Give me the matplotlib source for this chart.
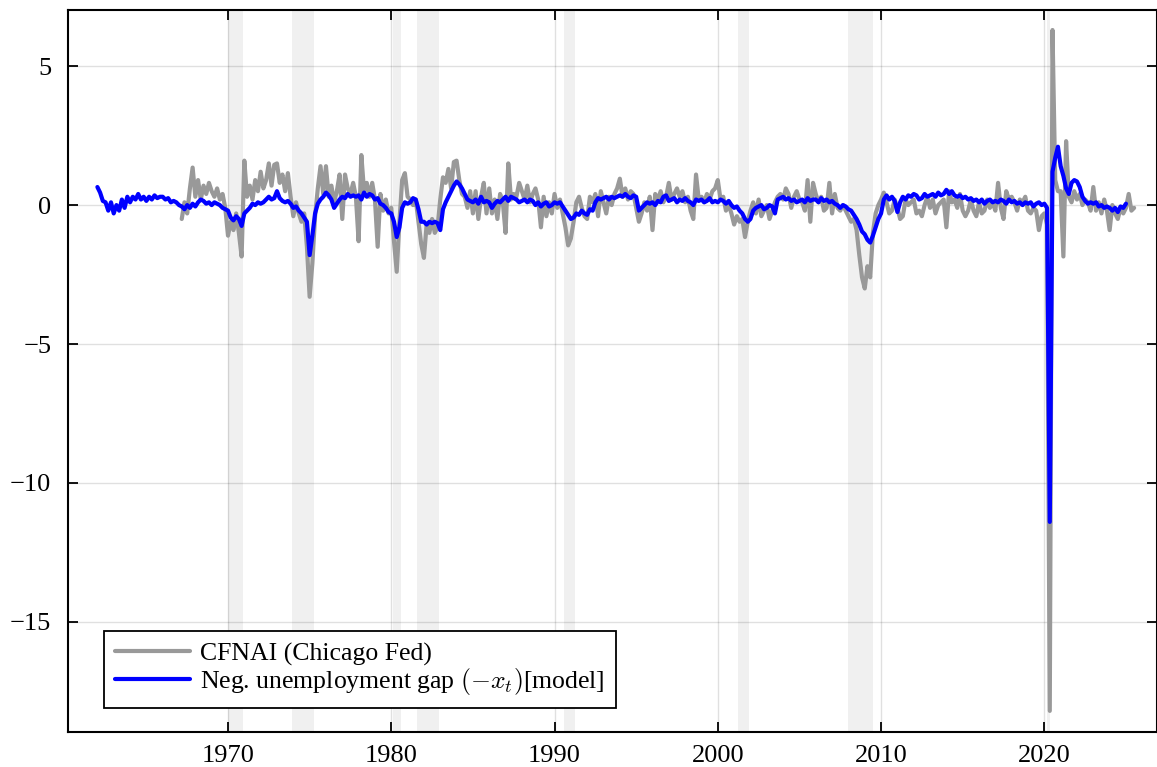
import numpy as np
import matplotlib
matplotlib.use("Agg")
import matplotlib.pyplot as plt

plt.rcParams['font.family'] = ['Liberation Serif', 'DejaVu Serif']
plt.rcParams['mathtext.fontset'] = 'cm'

# ---------------- data (bi-monthly samples) ----------------
# CFNAI (Chicago Fed): starts Mar 1967, one value every two months
cfnai_start = 1967 + 2 / 12
cfnai_1960s = [-0.5, 0.1, -0.3, 0.6, 1.35,
               0.3, 0.9, 0.2, 0.7, 0.4, 0.8,
               0.5, 0.3, 0.6, 0.2, 0.4, -0.1]
cfnai_1970s = [-1.1, -0.6, -0.9, -0.3, -1.0, -1.85,
               1.6, 0.3, 0.7, 0.2, 0.9, 0.5,
               1.2, 0.6, 0.9, 1.5, 0.7, 1.45,
               1.5, 0.8, 1.1, 0.5, 1.15, 0.3,
               -0.4, 0.1, -0.3, -0.6, -0.3, -1.5,
               -3.3, -2.1, -0.4, 0.6, 1.4, 0.4,
               1.4, 0.3, 0.7, 0.1, 0.5, 1.1,
               -0.5, 1.1, 0.6, 0.4, 0.8, 0.3,
               -1.3, 1.8, 0.5, 0.8, 0.3, 0.8,
               0.2, -1.5, 0.4, -0.2, 0.2, -0.3]
cfnai_1980s = [-0.1, -1.3, -2.4, -0.6, 0.9, 1.15,
               0.3, 0.2, 0.0, 0.2, -0.6, -1.4,
               -1.9, -0.7, -1.0, -0.5, -1.0, -0.8,
               0.2, 1.0, 0.8, 1.3, 0.6, 1.55,
               1.6, 0.9, 0.4, 0.3, -0.1, 0.5,
               -0.3, 0.5, -0.5, 0.3, 0.8, -0.3,
               0.6, -0.3, 0.2, -0.5, 0.4, 0.1,
               -1.0, 1.5, 0.2, 0.4, 0.3, 0.8,
               0.5, 0.2, 0.7, 0.1, 0.4, 0.6,
               0.2, -0.8, 0.3, -0.4, 0.1, -0.3]
cfnai_1990s = [0.4, -0.1, 0.2, -0.3, -0.8, -1.45,
               -1.2, -0.6, 0.1, 0.3, -0.1, -0.4,
               -0.5, 0.3, 0.1, 0.4, -0.4, 0.5,
               0.1, -0.3, 0.3, 0.0, 0.4, 0.6,
               0.95, 0.3, 0.6, 0.2, 0.5, 0.4,
               -0.1, -0.6, -0.3, 0.1, -0.2, 0.3,
               -0.9, 0.4, 0.2, 0.5, 0.1, 0.3,
               0.8, 0.2, 0.4, 0.6, 0.3, 0.5,
               0.1, 0.3, -0.2, -0.5, 1.1, 0.2,
               0.3, 0.1, 0.4, 0.2, 0.5, 0.6]
cfnai_2000s = [0.9, 0.2, 0.3, -0.2, 0.0, -0.3,
               -0.7, -0.4, -0.6, -0.5, -1.15, -0.6,
               -0.2, 0.1, -0.3, 0.2, -0.4, -0.2,
               0.0, -0.5, -0.2, 0.1, 0.3, 0.4,
               0.2, 0.6, 0.4, -0.1, 0.3, 0.5,
               0.2, 0.1, -0.2, 0.9, -0.6, 0.8,
               0.4, 0.1, 0.3, -0.2, -0.1, 0.8,
               -0.3, 0.4, -0.1, -0.2, 0.0, -0.2,
               -0.4, -0.6, -0.5, -0.9, -1.8, -2.6,
               -3.0, -2.2, -2.6, -1.0, -0.3, 0.0]
cfnai_2010s = [0.2, 0.45, 0.1, -0.3, -0.2, 0.2,
               -0.1, -0.5, -0.4, 0.2, 0.0, 0.1,
               0.2, -0.3, -0.2, -0.4, 0.0, 0.3,
               -0.1, 0.2, -0.3, 0.0, 0.1, 0.2,
               -0.8, 0.5, 0.1, 0.2, -0.1, 0.4,
               -0.2, -0.4, -0.2, 0.2, -0.2, -0.4,
               0.1, -0.3, -0.2, 0.2, -0.1, 0.1,
               -0.2, 0.8, -0.1, -0.5, 0.5, 0.2,
               0.3, 0.1, -0.2, 0.2, 0.1, 0.3,
               -0.2, -0.3, -0.1, -0.2, -0.9, -0.4]
cfnai_2020s = [-0.3, -0.7, -18.2, 6.3, 0.9, 0.5,
               0.5, -1.85, 2.3, 0.3, 0.1, 0.5,
               0.2, 0.4, 0.0, 0.2, 0.1, -0.2,
               0.65, -0.2, 0.1, -0.3, 0.2, -0.2,
               -0.9, 0.0, -0.3, -0.5, -0.1, -0.3,
               -0.1, 0.4, -0.2, -0.1]

# Negative unemployment gap (model): starts Jan 1962, one value every two months
gap_start = 1962.0
gap_1960s = [0.65, 0.45, 0.15, 0.1, -0.2, 0.1,
             -0.3, 0.0, -0.2, 0.2, -0.1, 0.3,
             0.1, 0.3, 0.2, 0.4, 0.2, 0.3,
             0.15, 0.3, 0.2, 0.35, 0.25, 0.3,
             0.3, 0.2, 0.25, 0.1, 0.15, 0.1,
             0.0, -0.05, -0.15, 0.0, -0.1, 0.05,
             -0.05, 0.1, 0.2, 0.15, 0.05, 0.1,
             0.0, 0.1, 0.05, 0.0, -0.1, -0.15]
gap_1970s = [-0.2, -0.45, -0.55, -0.4, -0.5, -0.75,
             -0.3, -0.2, -0.1, 0.05, 0.0, 0.1,
             0.05, 0.1, 0.2, 0.3, 0.2, 0.25,
             0.5, 0.25, 0.15, 0.1, 0.15, 0.05,
             -0.1, -0.05, -0.2, -0.3, -0.45, -0.6,
             -1.8, -1.1, -0.3, 0.05, 0.2, 0.3,
             0.45, 0.35, 0.2, -0.1, 0.05, 0.2,
             0.3, 0.25, 0.4, 0.3, 0.35, 0.3,
             0.35, 0.2, 0.45, 0.3, 0.4, 0.35,
             0.2, 0.25, 0.05, 0.0, -0.1, -0.25]
gap_1980s = [-0.3, -0.6, -1.15, -0.8, -0.1, 0.1,
             0.05, 0.1, 0.25, 0.2, -0.15, -0.6,
             -0.6, -0.7, -0.6, -0.65, -0.6, -0.65,
             -0.9, -0.15, 0.1, 0.3, 0.5, 0.7,
             0.85, 0.75, 0.6, 0.4, 0.2, 0.15,
             0.1, 0.2, 0.05, 0.3, 0.1, 0.15,
             0.1, -0.1, 0.05, 0.15, 0.1, 0.2,
             0.3, 0.15, 0.3, 0.25, 0.2, 0.1,
             0.15, 0.2, 0.1, 0.2, 0.15, 0.0,
             0.1, -0.05, 0.05, 0.1, -0.05, 0.0]
gap_1990s = [0.1, 0.05, 0.1, -0.05, -0.2, -0.35,
             -0.5, -0.45, -0.3, -0.35, -0.2, -0.3,
             -0.35, -0.15, -0.2, 0.1, 0.25, 0.2,
             0.25, 0.3, 0.2, 0.3, 0.25, 0.3,
             0.35, 0.3, 0.4, 0.3, 0.25, 0.35,
             0.3, -0.2, -0.1, 0.0, 0.1, 0.05,
             0.1, 0.0, 0.15, 0.1, 0.3, 0.35,
             0.15, 0.2, 0.25, 0.1, 0.2, 0.15,
             0.25, 0.15, 0.1, 0.0, 0.2, 0.15,
             0.2, 0.1, 0.15, 0.25, 0.1, 0.15]
gap_2000s = [0.1, 0.2, 0.15, 0.05, 0.15, 0.0,
             -0.1, -0.05, -0.2, -0.3, -0.5, -0.6,
             -0.5, -0.2, -0.1, -0.05, 0.0, -0.15,
             -0.1, 0.0, -0.05, -0.3, 0.2, 0.25,
             0.3, 0.2, 0.25, 0.15, 0.2, 0.1,
             0.15, 0.2, 0.1, 0.25, 0.15, 0.2,
             0.2, 0.1, 0.25, 0.15, 0.2, 0.1,
             0.15, 0.05, 0.0, -0.1, 0.0, -0.05,
             -0.15, -0.2, -0.35, -0.5, -0.7, -0.95,
             -1.05, -1.25, -1.35, -1.1, -0.8, -0.5]
gap_2010s = [-0.3, 0.2, 0.35, 0.2, 0.3, 0.15,
             -0.25, 0.1, 0.3, 0.2, 0.35, 0.3,
             0.4, 0.35, 0.2, 0.25, 0.4, 0.3,
             0.35, 0.4, 0.3, 0.45, 0.35, 0.4,
             0.55, 0.4, 0.5, 0.35, 0.3, 0.35,
             0.25, 0.3, 0.2, 0.25, 0.15, 0.2,
             0.1, 0.2, 0.05, 0.15, 0.2, 0.1,
             0.15, 0.1, 0.2, 0.15, 0.05, 0.2,
             0.1, 0.15, 0.05, 0.1, 0.0, 0.1,
             0.05, 0.1, -0.05, 0.05, 0.1, 0.0]
gap_2020s = [0.05, -0.1, -11.4, 1.2, 1.7, 2.1,
             1.4, 1.05, 0.6, 0.4, 0.8, 0.9,
             0.85, 0.65, 0.3, 0.15, 0.05, 0.1,
             0.05, 0.1, -0.05, 0.0, -0.1, -0.05,
             -0.1, -0.2, -0.1, -0.25, -0.05, -0.1,
             0.05]

# NBER recessions (shaded), start / end in decimal years
rec_start = [1970.0, 1973.917, 1980.083, 1981.583, 1990.583, 2001.25, 2008.0, 2020.167]
rec_end = [1970.917, 1975.25, 1980.583, 1982.917, 1991.25, 2001.917, 2009.5, 2020.333]

x_ticks = [1970, 1980, 1990, 2000, 2010, 2020]
y_ticks = [-15, -10, -5, 0, 5]

label_cfnai = "CFNAI (Chicago Fed)"
label_gap = "Neg. unemployment gap $(-x_t)$[model]"

# ---------------- assemble series ----------------
cfnai = np.array(cfnai_1960s + cfnai_1970s + cfnai_1980s + cfnai_1990s
                 + cfnai_2000s + cfnai_2010s + cfnai_2020s)
cfnai_t = cfnai_start + np.arange(len(cfnai)) / 6.0
gap = np.array(gap_1960s + gap_1970s + gap_1980s + gap_1990s
               + gap_2000s + gap_2010s + gap_2020s)
gap_t = gap_start + np.arange(len(gap)) / 6.0

# ---------------- figure ----------------
W, H = 1157, 767
fig = plt.figure(figsize=(W / 100, H / 100), dpi=100)
ax = fig.add_axes([68 / W, 1 - 732 / H, (1156.5 - 68) / W, (732 - 10) / H])

for s, e in zip(rec_start, rec_end):
    ax.axvspan(s, e, color='#f0f0f0', lw=0, zorder=0)

ax.plot(cfnai_t, cfnai, color='#999999', lw=3.0, label=label_cfnai,
        solid_joinstyle='round', solid_capstyle='round', zorder=3)
ax.plot(gap_t, gap, color='#0000ff', lw=3.0, label=label_gap,
        solid_joinstyle='round', solid_capstyle='round', zorder=4)

ax.set_xlim(1960.2, 2026.87)
ax.set_ylim(-18.96, 7.02)
ax.set_xticks(x_ticks)
ax.set_yticks(y_ticks)
ax.grid(True, color='black', alpha=0.12, lw=1.0, zorder=1)
ax.set_axisbelow(True)

ax.tick_params(axis='both', direction='in', length=7, width=1.3,
               top=True, right=True, labelsize=19)
ax.tick_params(axis='x', pad=9)
ax.tick_params(axis='y', pad=12)
for sp in ax.spines.values():
    sp.set_linewidth(1.5)

leg = ax.legend(loc='lower left', bbox_to_anchor=(0.033, 0.033),
                borderaxespad=0, fontsize=18.5, handlelength=2.9,
                handletextpad=0.4, labelspacing=0.0, borderpad=0.45,
                fancybox=False, framealpha=1, edgecolor='black')
leg.get_frame().set_linewidth(1.3)

fig.savefig('out.png', dpi=100)
